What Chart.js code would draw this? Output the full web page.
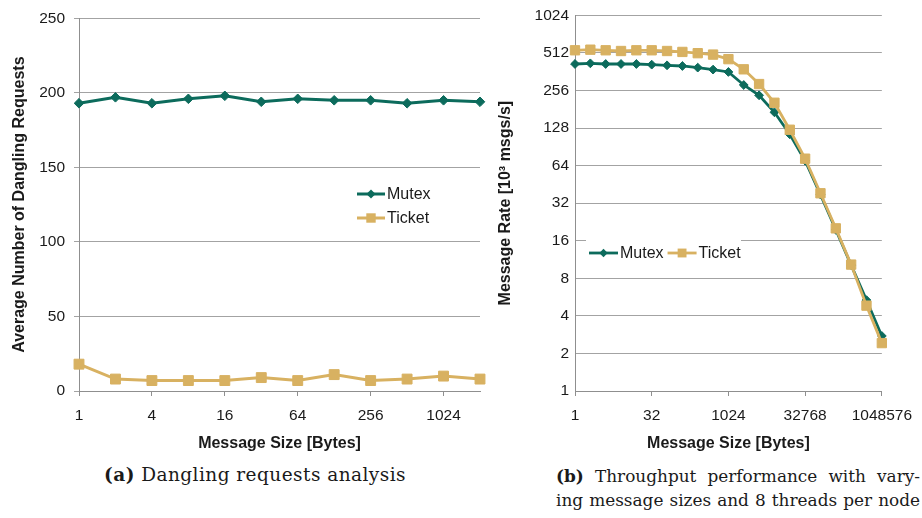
<!DOCTYPE html>
<html>
<head>
<meta charset="utf-8">
<script src="https://cdn.jsdelivr.net/npm/chart.js@4.4.1/dist/chart.umd.min.js"></script>
<style>
  html, body { margin: 0; padding: 0; background: #fff; width: 922px; height: 518px; overflow: hidden; }
  #chartA { position: absolute; left: 0; top: 0; }
  #chartB { position: absolute; left: 490px; top: 0; }
  .cap { position: absolute; font-family: "DejaVu Serif", serif; font-size: 18.5px; letter-spacing: 0.45px; line-height: 22px; color: #1a1a1a; white-space: nowrap; }
  .cap b { font-weight: bold; }
  .just { text-align: justify; text-align-last: justify; width: 364px; font-size: 16.9px; letter-spacing: 0; }
</style>
</head>
<body>
<canvas id="chartA" width="490" height="460"></canvas>
<canvas id="chartB" width="432" height="460"></canvas>

<div class="cap" style="left:104px; top:464px;"><b>(a)</b> Dangling requests analysis</div>
<div class="cap just" style="left:556px; top:465px;"><b>(b)</b> Throughput performance with vary-</div>
<div class="cap just" style="left:556px; top:489px;">ing message sizes and 8 threads per node</div>

<script>
// ---- (a) dangling requests per message size ----
const danglingSizes = ['1', '2', '4', '8', '16', '32', '64', '128', '256', '512', '1024', '2048'];
const danglingMutex = [193, 197, 193, 196, 198, 194, 196, 195, 195, 193, 195, 194];
const danglingTicket = [18, 8, 7, 7, 7, 9, 7, 11, 7, 8, 10, 8];
const danglingXLabels = ['1', '4', '16', '64', '256', '1024'];

// ---- (b) message rate (10^3 msgs/s) per message size ----
const rateSizes = ['1', '2', '4', '8', '16', '32', '64', '128', '256', '512', '1024', '2048', '4096',
  '8192', '16384', '32768', '65536', '131072', '262144', '524288', '1048576'];
const rateMutex = [417, 422, 417, 417, 417, 412, 407, 402, 390, 376, 360, 283, 234, 171, 114, 70, 37.5, 19.6, 10.2, 5.35, 2.76];
const rateTicket = [537, 543, 537, 530, 537, 537, 530, 521, 509, 496, 456, 378, 288, 204, 124, 72.7, 38.4, 20.1, 10.3, 4.83, 2.42];
const rateXLabels = ['1', '32', '1024', '32768', '1048576'];
const rateYTicks = [1, 2, 4, 8, 16, 32, 64, 128, 256, 512, 1024];

const MUTEX = '#0c6b5c';
const TICKET = '#d8b161';
const GRID = '#a3a3a3';
const AXIS = '#8f8f8f';
const TEXT = '#1a1a1a';
const SANS = '"Liberation Sans", Arial, sans-serif';

// Legend drawn inside the plot with a line + marker sample per series
const inlineLegend = {
  id: 'inlineLegend',
  afterDraw(chart, args, opts) {
    const ctx = chart.ctx;
    ctx.save();
    if (opts.box) {
      ctx.fillStyle = '#fff';
      ctx.fillRect(opts.box[0], opts.box[1], opts.box[2], opts.box[3]);
    }
    ctx.font = '16px ' + SANS;
    ctx.textBaseline = 'middle';
    ctx.textAlign = 'left';
    let x = opts.x, y = opts.y;
    const order = opts.order || chart.data.datasets.map((d, i) => i);
    order.forEach(i => {
      const ds = chart.data.datasets[i];
      ctx.strokeStyle = ds.borderColor;
      ctx.lineWidth = ds.borderWidth;
      ctx.beginPath();
      ctx.moveTo(x, y);
      ctx.lineTo(x + opts.lineLen, y);
      ctx.stroke();
      const cx = x + opts.lineLen / 2;
      const r = ds.pointRadius * opts.markerScale;
      ctx.fillStyle = ds.pointBackgroundColor;
      ctx.beginPath();
      if (ds.pointStyle === 'rectRot') {
        ctx.moveTo(cx - r, y); ctx.lineTo(cx, y - r); ctx.lineTo(cx + r, y); ctx.lineTo(cx, y + r);
        ctx.closePath();
      } else {
        const h = Math.SQRT1_2 * r;
        ctx.rect(cx - h, y - h, 2 * h, 2 * h);
      }
      ctx.fill();
      ctx.fillStyle = TEXT;
      ctx.fillText(ds.label, x + opts.lineLen + 2, y + 1);
      if (opts.horizontal) {
        x += opts.lineLen + 2 + ctx.measureText(ds.label).width + opts.gap;
      } else {
        y += opts.rowGap;
      }
    });
    ctx.restore();
  }
};

function seriesStyle(color, style, radius, width) {
  return {
    borderColor: color,
    backgroundColor: color,
    pointBackgroundColor: color,
    pointBorderColor: color,
    pointBorderWidth: 1,
    pointStyle: style,
    pointRadius: radius,
    pointHoverRadius: radius,
    borderWidth: width,
    tension: 0,
    fill: false,
    clip: false
  };
}

// ---- chart (a) ----
new Chart(document.getElementById('chartA'), {
  type: 'line',
  data: {
    labels: danglingSizes,
    datasets: [
      Object.assign({ label: 'Mutex', data: danglingMutex }, seriesStyle(MUTEX, 'rectRot', 4.8, 3)),
      Object.assign({ label: 'Ticket', data: danglingTicket }, seriesStyle(TICKET, 'rect', 7, 3))
    ]
  },
  options: {
    responsive: false,
    animation: false,
    layout: { padding: { left: 0, top: 16, right: 8, bottom: 0 } },
    plugins: {
      legend: { display: false },
      tooltip: { enabled: false },
      inlineLegend: { x: 357, y: 194, lineLen: 28, rowGap: 24, markerScale: 0.95 }
    },
    scales: {
      x: {
        type: 'category',
        offset: false,
        grid: {
          drawOnChartArea: false,
          drawTicks: true,
          tickLength: 5,
          tickColor: c => danglingXLabels.includes(danglingSizes[c.index]) ? AXIS : 'rgba(0,0,0,0)'
        },
        border: { color: AXIS, width: 1 },
        ticks: {
          autoSkip: false,
          maxRotation: 0,
          padding: 10,
          color: TEXT,
          font: { family: SANS, size: 15.5 },
          callback: function (v, i) { const l = danglingSizes[i]; return danglingXLabels.includes(l) ? l : ''; }
        },
        title: {
          display: true,
          text: 'Message Size [Bytes]',
          color: TEXT,
          font: { family: SANS, size: 16, weight: 'bold' },
          padding: { top: 0, bottom: 7 }
        },
        afterFit: s => { s.height = 69; }
      },
      y: {
        min: 0,
        max: 250,
        ticks: { stepSize: 50, padding: 9, color: TEXT, font: { family: SANS, size: 15.5 } },
        grid: { color: GRID, lineWidth: 1, tickLength: 5, tickColor: GRID },
        border: { color: AXIS, width: 1 },
        title: {
          display: true,
          text: 'Average Number of Dangling Requests',
          color: TEXT,
          font: { family: SANS, size: 16, weight: 'bold' },
          padding: { top: 10, bottom: 0 }
        },
        afterFit: s => { s.width = 79; }
      }
    }
  },
  plugins: [inlineLegend]
});

// ---- chart (b) ----
new Chart(document.getElementById('chartB'), {
  type: 'line',
  data: {
    labels: rateSizes,
    datasets: [
      Object.assign({ label: 'Mutex', data: rateMutex, order: 1 }, seriesStyle(MUTEX, 'rectRot', 4.4, 2.8)),
      Object.assign({ label: 'Ticket', data: rateTicket, order: 0 }, seriesStyle(TICKET, 'rect', 6.6, 2.8))
    ]
  },
  options: {
    responsive: false,
    animation: false,
    layout: { padding: { left: 0, top: 8, right: 35, bottom: 0 } },
    plugins: {
      legend: { display: false },
      tooltip: { enabled: false },
      inlineLegend: { x: 99, y: 253, lineLen: 29, gap: 4, horizontal: true, markerScale: 0.95, order: [0, 1], box: [96, 240, 155, 36] }
    },
    scales: {
      x: {
        type: 'category',
        offset: false,
        grid: {
          drawOnChartArea: false,
          drawTicks: true,
          tickLength: 5,
          tickColor: c => rateXLabels.includes(rateSizes[c.index]) ? AXIS : 'rgba(0,0,0,0)'
        },
        border: { color: AXIS, width: 1 },
        ticks: {
          autoSkip: false,
          maxRotation: 0,
          padding: 10,
          color: TEXT,
          font: { family: SANS, size: 15.5 },
          callback: function (v, i) { const l = rateSizes[i]; return rateXLabels.includes(l) ? l : ''; }
        },
        title: {
          display: true,
          text: 'Message Size [Bytes]',
          color: TEXT,
          font: { family: SANS, size: 16, weight: 'bold' },
          padding: { top: 0, bottom: 7 }
        },
        afterFit: s => { s.height = 69; }
      },
      y: {
        type: 'logarithmic',
        min: 1,
        max: 1024,
        afterBuildTicks: axis => { axis.ticks = rateYTicks.map(v => ({ value: v })); },
        ticks: { padding: 6, color: TEXT, font: { family: SANS, size: 15.5 }, callback: v => String(v) },
        grid: { color: GRID, lineWidth: 1, drawTicks: false },
        border: { color: AXIS, width: 1 },
        title: {
          display: true,
          text: 'Message Rate [10\u00B3 msgs/s]',
          color: TEXT,
          font: { family: SANS, size: 16, weight: 'bold' },
          padding: { top: 6, bottom: 0 }
        },
        afterFit: s => { s.width = 85; }
      }
    }
  },
  plugins: [inlineLegend]
});
</script>
</body>
</html>
